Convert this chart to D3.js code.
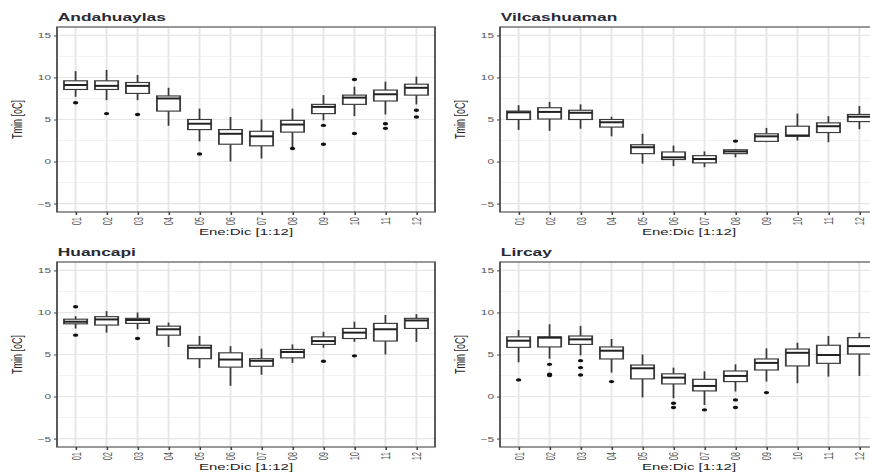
<!DOCTYPE html>
<html><head><meta charset="utf-8">
<script src="https://cdn.jsdelivr.net/npm/d3@7"></script>
<style>html,body{margin:0;padding:0;background:#fff;overflow:hidden}</style>
</head><body>
<svg id="chart"></svg>
<script>
// ---- data ----
const months = ["01","02","03","04","05","06","07","08","09","10","11","12"];
const yTicks = [-5, 0, 5, 10, 15];
const yMinor = [-2.5, 2.5, 7.5, 12.5];
const stations = ["Andahuaylas", "Vilcashuaman", "Huancapi", "Lircay"];
const xTitle = "Ene:Dic [1:12]";
const yTitle = "Tmin [oC]";
// [lower whisker, q1, median, q3, upper whisker] per month
const andahuaylas = [[7.7,8.57,9.1,9.6,10.75],[7.3,8.57,9.0,9.6,10.9],[7.3,8.1,9.0,9.4,10.3],[4.25,6.0,7.5,7.8,8.77],[2.4,3.8,4.5,5.0,6.3],[0.0,2.06,3.3,3.8,5.3],[0.36,1.87,3.0,3.6,5.0],[1.55,3.5,4.4,4.9,6.3],[4.9,5.7,6.5,6.8,7.9],[5.4,6.8,7.6,7.9,8.9],[5.6,7.2,8.0,8.5,9.5],[6.8,7.9,8.77,9.2,10.1]];
const andahuaylasOut = [[7.0],[5.7],[5.6],[],[0.9],[],[],[1.55],[4.3,2.06],[9.76,3.33],[4.5,3.95],[6.1,5.3]];
const vilcashuaman = [[3.76,5.0,5.85,6.0,6.7],[3.65,5.06,5.9,6.4,7.1],[3.9,5.0,5.8,6.1,6.8],[3.0,4.1,4.67,5.0,5.33],[-0.24,0.94,1.7,2.0,3.3],[-0.55,0.24,0.5,1.14,1.9],[-0.67,-0.16,0.3,0.7,1.2],[0.5,0.94,1.2,1.4,1.5],[2.3,2.4,3.0,3.3,4.0],[2.5,3.0,3.1,4.2,5.7],[2.3,3.45,4.2,4.6,5.4],[3.84,4.75,5.33,5.6,6.6]];
const vilcashuamanOut = [[],[],[],[],[],[],[],[2.43],[],[],[],[]];
const huancapi = [[8.1,8.65,8.9,9.2,9.56],[7.6,8.5,9.17,9.5,10.16],[8.0,8.7,9.1,9.3,10.0],[5.9,7.3,8.0,8.37,8.8],[3.4,4.5,5.8,6.1,7.2],[1.27,3.5,4.4,5.2,6.0],[2.6,3.6,4.25,4.5,5.7],[4.0,4.6,5.3,5.6,6.2],[5.8,6.2,6.6,7.1,7.7],[6.5,6.9,7.6,8.1,8.9],[5.0,6.6,8.0,8.7,9.7],[6.5,8.1,9.05,9.3,9.8]];
const huancapiOut = [[10.67,7.3],[],[6.9],[],[],[],[],[],[4.2],[4.84],[],[]];
const lircay = [[4.07,5.85,6.64,7.1,7.9],[4.5,5.9,7.0,7.1,8.6],[4.9,6.2,6.8,7.2,8.4],[2.85,4.47,5.45,5.9,6.84],[-0.1,2.1,3.36,3.75,5.0],[-0.2,1.5,2.25,2.7,3.44],[-1.0,0.67,1.26,2.05,3.0],[0.6,1.78,2.45,3.04,3.83],[1.78,3.16,4.0,4.47,5.73],[1.58,3.64,5.2,5.65,6.4],[2.37,3.95,4.94,6.1,7.2],[2.45,5.06,6.0,7.0,7.6]];
const lircayOut = [[1.98],[3.83,2.65,2.5],[4.27,3.44,2.57],[1.78],[],[-0.8,-1.3],[-1.58],[-0.4,-1.3],[0.47],[],[],[]];

const stationData = [andahuaylas, vilcashuaman, huancapi, lircay];
const stationOut = [andahuaylasOut, vilcashuamanOut, huancapiOut, lircayOut];

// ---- layout (the reference is horizontally stretched) ----
const S = 1.58;
const W = 870, H = 472, VW = W / S;
const font = "'Liberation Sans', Arial, Helvetica, sans-serif";
const svg = d3.select("#chart")
  .attr("width", W).attr("height", H)
  .attr("viewBox", `0 0 ${VW} ${H}`)
  .attr("preserveAspectRatio", "none");

const panels = [
  {x0: 57, x1: 435, y0: 27, y1: 212},
  {x0: 500, x1: 878, y0: 27, y1: 212},
  {x0: 57, x1: 435, y0: 262, y1: 447},
  {x0: 500, x1: 878, y0: 262, y1: 447}
];

panels.forEach((p, i) => {
  const x0 = p.x0 / S, x1 = p.x1 / S;
  const x = d3.scalePoint().domain(months).range([x0, x1]).padding(0.6);
  const y = d3.scaleLinear().domain([-6, 16]).range([p.y1, p.y0]);
  const step = x.step();
  const bw = step * 0.75;
  const g = svg.append("g");

  g.append("rect").attr("x", x0).attr("y", p.y0).attr("width", x1 - x0).attr("height", p.y1 - p.y0).attr("fill", "#fff");
  g.selectAll(".minor").data(yMinor).enter().append("line")
    .attr("x1", x0).attr("x2", x1).attr("y1", d => y(d)).attr("y2", d => y(d))
    .attr("stroke", "#f2f2f2").attr("stroke-width", 0.9);
  g.selectAll(".major").data(yTicks).enter().append("line")
    .attr("x1", x0).attr("x2", x1).attr("y1", d => y(d)).attr("y2", d => y(d))
    .attr("stroke", "#e6e6e6").attr("stroke-width", 1.1);
  g.selectAll(".vmajor").data(months).enter().append("line")
    .attr("x1", d => x(d)).attr("x2", d => x(d)).attr("y1", p.y0).attr("y2", p.y1)
    .attr("stroke", "#e6e6e6").attr("stroke-width", 1.2);

  const data = stationData[i];
  const outs = stationOut[i];
  const bx = g.selectAll(".box").data(months).enter().append("g");
  bx.append("line").attr("x1", d => x(d)).attr("x2", d => x(d))
    .attr("y1", (d, j) => y(data[j][0])).attr("y2", (d, j) => y(data[j][1]))
    .attr("stroke", "#3a3a3a").attr("stroke-width", 1.1);
  bx.append("line").attr("x1", d => x(d)).attr("x2", d => x(d))
    .attr("y1", (d, j) => y(data[j][3])).attr("y2", (d, j) => y(data[j][4]))
    .attr("stroke", "#3a3a3a").attr("stroke-width", 1.1);
  bx.append("rect").attr("x", d => x(d) - bw / 2).attr("width", bw)
    .attr("y", (d, j) => y(data[j][3])).attr("height", (d, j) => y(data[j][1]) - y(data[j][3]))
    .attr("fill", "#fff").attr("stroke", "#3a3a3a").attr("stroke-width", 1.15);
  bx.append("line").attr("x1", d => x(d) - bw / 2).attr("x2", d => x(d) + bw / 2)
    .attr("y1", (d, j) => y(data[j][2])).attr("y2", (d, j) => y(data[j][2]))
    .attr("stroke", "#222").attr("stroke-width", 2);
  months.forEach((m, j) => {
    g.selectAll(null).data(outs[j]).enter().append("circle")
      .attr("cx", x(m)).attr("cy", d => y(d)).attr("r", 1.7).attr("fill", "#111");
  });

  g.append("rect").attr("x", x0).attr("y", p.y0).attr("width", x1 - x0).attr("height", p.y1 - p.y0)
    .attr("fill", "none").attr("stroke", "#444").attr("stroke-width", 1.1);

  const ya = g.append("g").attr("transform", `translate(${x0},0)`)
    .call(d3.axisLeft(y).tickValues(yTicks).tickSize(3 / S).tickPadding(1.9).tickFormat(d3.format("d")));
  ya.select(".domain").remove();
  ya.selectAll("line").attr("stroke", "#444");
  ya.selectAll("text").attr("font-family", font).attr("font-size", 7.5).attr("fill", "#555");

  const xa = g.append("g").attr("transform", `translate(0,${p.y1})`)
    .call(d3.axisBottom(x).tickSize(3).tickSizeOuter(0));
  xa.select(".domain").remove();
  xa.selectAll("line").attr("stroke", "#444");
  xa.selectAll("text").attr("font-family", font).attr("font-size", 7.5).attr("fill", "#555")
    .attr("transform", "rotate(-90)").attr("text-anchor", "end")
    .attr("x", -5).attr("y", 0).attr("dy", "0.35em");

  g.append("text").attr("x", x0 + 0.5).attr("y", p.y0 - 5.5)
    .attr("font-family", font).attr("font-size", 11).attr("font-weight", "bold").attr("fill", "#2a2a35")
    .text(stations[i]);
  g.append("text").attr("x", (x0 + x1) / 2).attr("y", p.y1 + 23)
    .attr("text-anchor", "middle").attr("font-family", font).attr("font-size", 9.5).attr("fill", "#222")
    .text(xTitle);
  const yc = (p.y0 + p.y1) / 2;
  const yx = (p.x0 - 39.5) / S;
  g.append("text").attr("transform", `translate(${yx},${yc}) rotate(-90)`)
    .attr("text-anchor", "middle").attr("dy", "0.35em").attr("font-family", font).attr("font-size", 9).attr("fill", "#2a1f1f")
    .text(yTitle);
});
</script>
</body></html>
